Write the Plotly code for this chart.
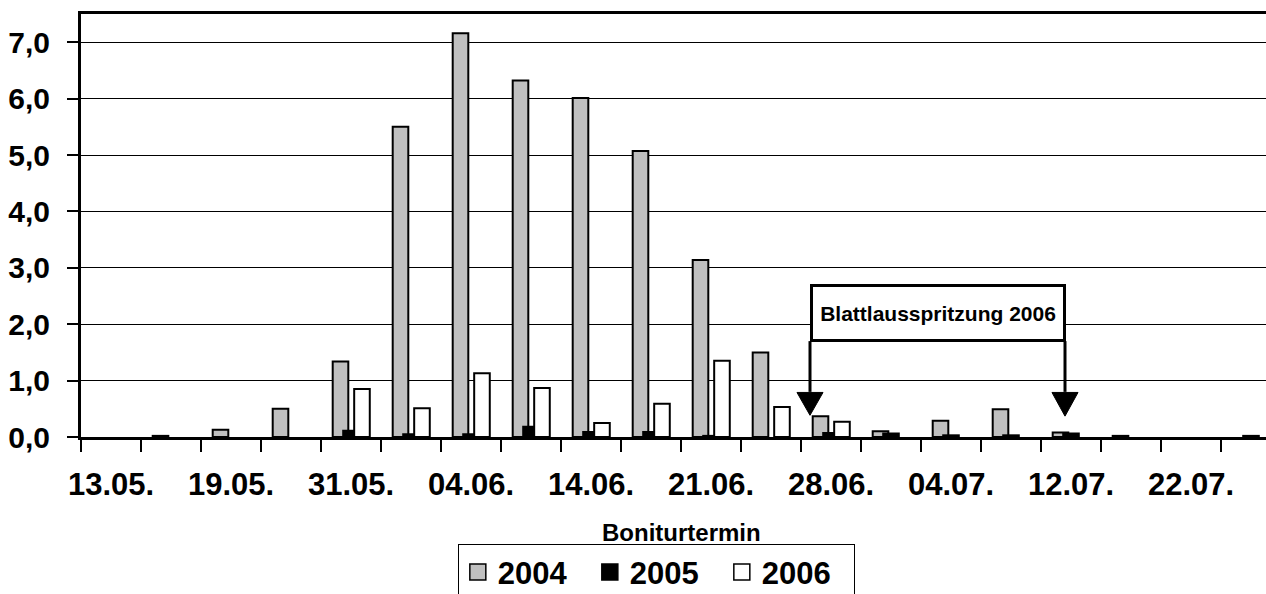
import plotly.graph_objects as go

# Sampling dates (Boniturtermine); every second date carries a label
date_labels = ["13.05.", "19.05.", "31.05.", "04.06.", "14.06.",
               "21.06.", "28.06.", "04.07.", "12.07.", "22.07."]
n_dates = 20
termin = list(range(n_dates))
label_pos = termin[::2]

# Mean aphid counts per sampling date and year
y2004 = [0.00, 0.02, 0.13, 0.50, 1.34, 5.50, 7.16, 6.32, 6.01, 5.07,
         3.14, 1.50, 0.37, 0.10, 0.29, 0.49, 0.08, 0.02, 0.00, 0.00]
y2005 = [0.00, 0.00, 0.00, 0.00, 0.11, 0.05, 0.05, 0.18, 0.09, 0.09,
         0.02, 0.00, 0.07, 0.06, 0.03, 0.03, 0.06, 0.00, 0.00, 0.02]
y2006 = [0.00, 0.00, 0.00, 0.00, 0.85, 0.51, 1.13, 0.87, 0.25, 0.59,
         1.35, 0.53, 0.27, 0.00, 0.00, 0.00, 0.00, 0.00, 0.00, 0.00]

years = ["2004", "2005", "2006"]
colors = ["#C0C0C0", "#000000", "#FFFFFF"]
series = [y2004, y2005, y2006]

# Spraying dates (x in category units) and arrow tips
spray_x = [11.65, 15.9]
spray_tip = [0.385, 0.37]

FONT = "Liberation Sans, Arial, sans-serif"
bar_w = 0.26
centers = [-0.175, 0.0, 0.183]

fig = go.Figure()
for name, col, vals, c in zip(years, colors, series, centers):
    # zero counts are left empty so no outline is drawn on the baseline
    fig.add_trace(go.Bar(
        x=termin, y=[v if v > 0 else None for v in vals], name=name,
        width=bar_w, offset=c - bar_w / 2,
        marker=dict(color=col, line=dict(color="black", width=2)),
        showlegend=False, legendgroup=name,
    ))
    # legend swatch
    fig.add_trace(go.Scatter(
        x=[None], y=[None], mode="markers", name=name, legendgroup=name,
        marker=dict(symbol="square", size=20, color=col,
                    line=dict(color="black", width=1.5)),
    ))

# Arrows marking the 2006 aphid spraying
shapes = []
for xs, tip in zip(spray_x, spray_tip):
    shapes.append(dict(type="line", xref="x", yref="y", x0=xs, x1=xs,
                       y0=1.70, y1=0.80, line=dict(color="black", width=3)))
    shapes.append(dict(type="path", xref="x", yref="y",
                       path=f"M {xs-0.217},0.79 L {xs+0.217},0.79 L {xs},{tip} Z",
                       fillcolor="black", line=dict(color="black", width=1)))

fig.update_layout(
    width=1266, height=594,
    margin=dict(l=81, r=0, t=14, b=157, autoexpand=False),
    paper_bgcolor="white", plot_bgcolor="white",
    barmode="overlay",
    separators=",.",
    font=dict(family=FONT, color="black"),
    shapes=shapes,
    legend=dict(
        orientation="h", x=0.318, xanchor="left", y=-0.2537, yanchor="top",
        bordercolor="black", borderwidth=1, bgcolor="white",
        font=dict(family=FONT, size=31, weight="bold"),
        entrywidth=87, itemwidth=30, tracegroupgap=0,
    ),
    annotations=[
        dict(x=13.78, y=2.19, xref="x", yref="y",
             text="Blattlausspritzung 2006", showarrow=False,
             font=dict(family=FONT, size=21, weight="bold"),
             width=250, height=52, borderpad=0, borderwidth=3,
             bordercolor="black", bgcolor="white"),
        dict(x=(n_dates - 1) / 2, y=-0.225, xref="x", yref="paper",
             text="Boniturtermin", showarrow=False, yanchor="middle",
             font=dict(family=FONT, size=24, weight="bold")),
    ],
)

fig.update_xaxes(
    range=[-0.5, 19.25], showgrid=False, zeroline=False,
    showline=True, linecolor="black", linewidth=3, mirror=True,
    tickmode="array", tickvals=label_pos, ticktext=date_labels,
    ticks="outside", ticklen=18, tickcolor="rgba(0,0,0,0)",
    tickfont=dict(family=FONT, size=31, weight="bold"),
    minor=dict(tickmode="linear", tick0=-0.5, dtick=1, ticks="outside",
               ticklen=12, tickwidth=2, tickcolor="black", showgrid=False),
)
fig.update_yaxes(
    range=[0, 7.5], dtick=1, tick0=0, tickformat=".1f",
    showgrid=True, gridcolor="black", gridwidth=1, zeroline=False,
    showline=True, linecolor="black", linewidth=3, mirror=False,
    ticks="outside", ticklen=11, tickwidth=2, tickcolor="black",
    ticklabelstandoff=11,
    tickfont=dict(family=FONT, size=30, weight="bold"),
)

fig.write_html("out.html")
